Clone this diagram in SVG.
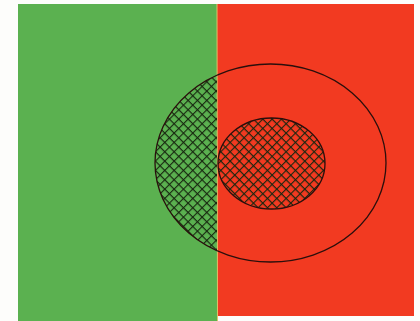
<svg xmlns="http://www.w3.org/2000/svg" width="420" height="321" viewBox="0 0 420 321">
<defs>
<style>
.outline{fill:none;stroke:#2a0f0c;stroke-width:1.3}
.hatch{stroke:#17260f;stroke-width:1.1;fill:none}
</style>
<pattern id="hx" patternUnits="userSpaceOnUse" width="6.6" height="6.6" patternTransform="rotate(45 217 163)">
<path class="hatch" d="M0,0.55 H6.6 M0.55,0 V6.6"/>
</pattern>
<clipPath id="leftHalf"><rect x="0" y="0" width="217" height="321"/></clipPath>
</defs>
<rect width="420" height="321" fill="#fdfdfb"/>
<g id="green-region"><rect x="18" y="4" width="199" height="317" fill="#5bb150"/></g>
<g id="red-region"><rect x="217" y="4" width="197" height="312" fill="#f23a21"/></g>
<line x1="217" y1="4" x2="217.5" y2="321" stroke="#d9c46a" stroke-width="1"/>
<g id="big-ellipse">
<ellipse cx="270.5" cy="163" rx="115.5" ry="99" fill="url(#hx)" clip-path="url(#leftHalf)"/>
<ellipse class="outline" cx="270.5" cy="163" rx="115.5" ry="99"/>
</g>
<g id="inner-ellipse">
<ellipse cx="271.5" cy="163.5" rx="53.5" ry="45.5" fill="url(#hx)"/>
<ellipse class="outline" cx="271.5" cy="163.5" rx="53.5" ry="45.5"/>
</g>
<g id="connectors"/>
</svg>
